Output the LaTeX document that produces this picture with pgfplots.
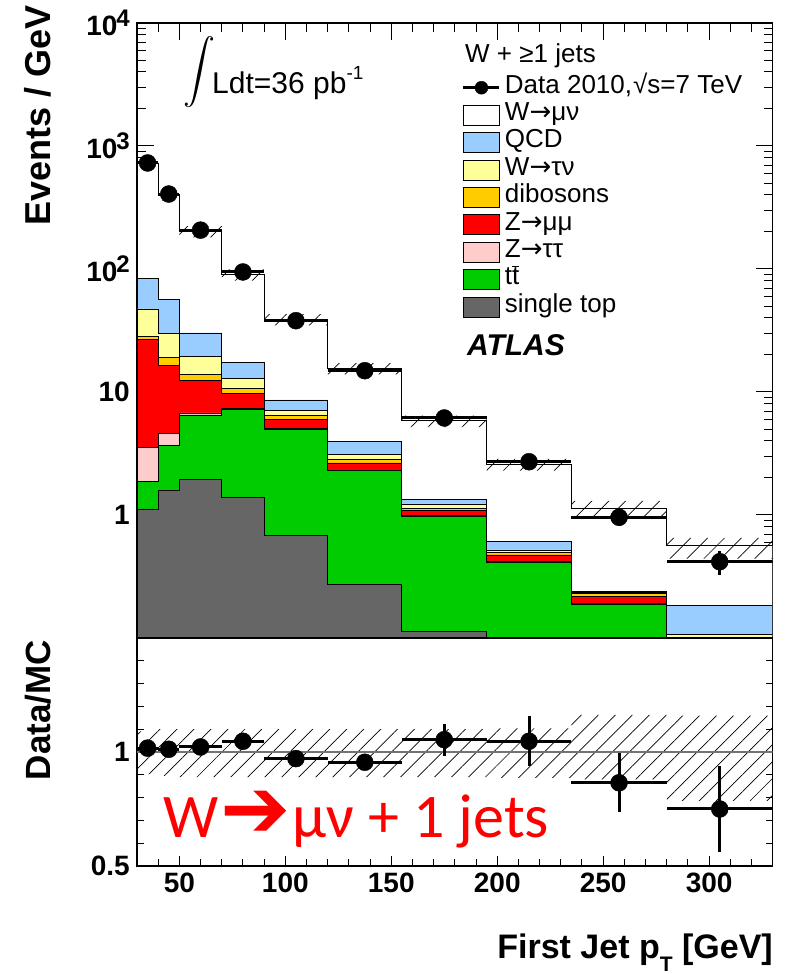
\documentclass[border=0pt]{standalone}
\usepackage{fontspec}
\setmainfont{Liberation Sans}
\newfontfamily\calib{Carlito}
\newfontfamily\dejavu{DejaVu Sans}
\usepackage{graphicx}
\usepackage{pgfplots}
\usepackage{pgfplotstable}
\pgfplotsset{compat=1.18}
\usetikzlibrary{patterns.meta}

\definecolor{cqcd}{RGB}{153,204,255}
\definecolor{cwtn}{RGB}{255,255,153}
\definecolor{cdib}{RGB}{255,204,0}
\definecolor{czmm}{RGB}{255,0,0}
\definecolor{cztt}{RGB}{255,204,204}
\definecolor{ctt}{RGB}{0,204,0}
\definecolor{cst}{RGB}{102,102,102}

\newcommand\yt[1]{{\fontsize{28}{28}\selectfont\bfseries #1}}
\newcommand\ysup[1]{\kern-1pt\raisebox{9pt}{\fontsize{24}{24}\selectfont\bfseries #1}}
\newcommand\xt[1]{{\fontsize{28}{28}\selectfont\bfseries #1}}
\newcommand\arr{{\dejavu →}}

% cumulative stack tops at bin low edges; first and last rows close the area at the axis floor
\pgfplotstableread{
x   tot   qcd   wtn   dib   zmm   ztt   tt    st
30  0.1   0.1   0.1   0.1   0.1   0.1   0.1   0.1
30  716   84    47.3  28.4  26.6  3.55  1.88  1.12
40  402   57    30    19.1  16.4  4.62  3.66  1.58
50  203   30.2  19.5  14    12.5  6.75  6.41  1.94
70  90.4  17.4  12.8  10.7  9.8   7.3   7.18  1.39
90  39.1  8.61  7.05  6.41  6.03  5.05  5.0   0.679
120 15.6  3.95  3.09  2.82  2.65  2.32  2.29  0.271
155 5.83  1.33  1.23  1.13  1.08  0.99  0.976 0.113
195 2.59  0.611 0.52  0.497 0.473 0.418 0.412 0.06
235 1.12  0.24  0.235 0.231 0.218 0.192 0.189 0.03
280 0.563 0.185 0.107 0.07  0.065 0.06  0.055 0.02
330 0.563 0.185 0.107 0.07  0.065 0.06  0.055 0.02
330 0.1   0.1   0.1   0.1   0.1   0.1   0.1   0.1
}\stack

% uncertainty band outline: MC total m and relative factor f (upper edge forward, lower edge back)
\pgfplotstableread{
x   m     f
30  716   1.09
40  402   1.10
50  203   1.10
70  90.4  1.10
90  39.1  1.10
120 15.6  1.10
155 5.83  1.10
195 2.59  1.104
235 1.12  1.163
280 0.563 1.16
330 0.563 1.16
330 0.563 0.786
280 1.12  0.88
235 2.59  0.887
195 5.83  0.89
155 15.6  0.89
120 39.1  0.89
90  90.4  0.89
70  203   0.89
50  402   0.895
40  716   0.903
30  716   0.903
}\band

\pgfplotstableread{
x     y     ex    ey     r      er
35    728   5     9      1.017  0.015
45    407   5     6      1.012  0.015
60    207   10    3      1.022  0.015
80    94.6  10    1.5    1.047  0.02
105   38    15    1.1    0.971  0.025
137.5 14.9  17.5  0.65   0.955  0.03
175   6.15  20    0.41   1.054  0.07
215   2.71  20    0.28   1.047  0.11
257.5 0.958 22.5  0.144  0.865  0.13
305   0.417 25    0.09   0.75   0.19
}\data

\begin{document}
\begin{tikzpicture}
\useasboundingbox (0,0) rectangle (786pt,974pt);

\begin{axis}[
  at={(137pt,336pt)}, anchor=south west, scale only axis,
  width=635.7pt, height=615pt,
  xmin=30, xmax=330, ymode=log, ymin=0.1, ymax=10000,
  axis line style={line width=1.1pt},
  tick style={black, line width=1pt},
  major tick length=17pt, minor tick length=9pt,
  xtick={50,100,150,200,250,300}, xticklabels={},
  minor xtick={30,40,...,330},
  ytick={1,10,100,1000,10000},
  yticklabels={\yt{1},\yt{10},\yt{10}\ysup{2},\yt{10}\ysup{3},\yt{10}\ysup{4}},
  minor ytick={0.2,0.3,0.4,0.5,0.6,0.7,0.8,0.9,2,3,4,5,6,7,8,9,20,30,40,50,60,70,80,90,200,300,400,500,600,700,800,900,2000,3000,4000,5000,6000,7000,8000,9000},
  yticklabel style={inner sep=0pt, xshift=-7pt, anchor=east},
  legend style={at={(0.5112,0.917)}, anchor=north west, draw=none, fill=none,
    inner sep=0pt, outer sep=0pt, row sep=0pt,
    font=\fontsize{26}{26}\selectfont,
    nodes={inner xsep=4pt, inner ysep=0pt, text height=19pt, text depth=8.4pt}},
  legend cell align=left,
]
\addlegendimage{legend image code/.code={\draw[line width=3pt] (0pt,0pt) -- (36pt,0pt); \fill (18pt,0pt) circle (6.5pt);}}
\addlegendentry{Data 2010,\kern1pt√s=7 TeV}
\addlegendimage{legend image code/.code={\draw[fill=white,line width=0.8pt] (0pt,-10pt) rectangle (36pt,10pt);}}
\addlegendentry{W\arr μν}
\addlegendimage{legend image code/.code={\draw[fill=cqcd,line width=0.8pt] (0pt,-10pt) rectangle (36pt,10pt);}}
\addlegendentry{QCD}
\addlegendimage{legend image code/.code={\draw[fill=cwtn,line width=0.8pt] (0pt,-10pt) rectangle (36pt,10pt);}}
\addlegendentry{W\arr τν}
\addlegendimage{legend image code/.code={\draw[fill=cdib,line width=0.8pt] (0pt,-10pt) rectangle (36pt,10pt);}}
\addlegendentry{dibosons}
\addlegendimage{legend image code/.code={\draw[fill=czmm,line width=0.8pt] (0pt,-10pt) rectangle (36pt,10pt);}}
\addlegendentry{Z\arr μμ}
\addlegendimage{legend image code/.code={\draw[fill=cztt,line width=0.8pt] (0pt,-10pt) rectangle (36pt,10pt);}}
\addlegendentry{Z\arr ττ}
\addlegendimage{legend image code/.code={\draw[fill=ctt,line width=0.8pt] (0pt,-10pt) rectangle (36pt,10pt);}}
\addlegendentry{t$\overline{\mbox{t}}$}
\addlegendimage{legend image code/.code={\draw[fill=cst,line width=0.8pt] (0pt,-10pt) rectangle (36pt,10pt);}}
\addlegendentry{single top}

\addplot[const plot, fill=white, draw=black, line width=0.9pt, forget plot] table[x=x,y=tot]{\stack};
\addplot[const plot, fill=cqcd, draw=black, line width=0.8pt, forget plot] table[x=x,y=qcd]{\stack};
\addplot[const plot, fill=cwtn, draw=black, line width=0.8pt, forget plot] table[x=x,y=wtn]{\stack};
\addplot[const plot, fill=cdib, draw=black, line width=0.8pt, forget plot] table[x=x,y=dib]{\stack};
\addplot[const plot, fill=czmm, draw=black, line width=0.8pt, forget plot] table[x=x,y=zmm]{\stack};
\addplot[const plot, fill=cztt, draw=black, line width=0.8pt, forget plot] table[x=x,y=ztt]{\stack};
\addplot[const plot, fill=ctt, draw=black, line width=0.8pt, forget plot] table[x=x,y=tt]{\stack};
\addplot[const plot, fill=cst, draw=black, line width=0.8pt, forget plot] table[x=x,y=st]{\stack};

\addplot[const plot, draw=none, pattern={Lines[angle=45,distance=12pt,line width=0.7pt]}, forget plot]
  table[x=x, y expr=\thisrow{m}*\thisrow{f}]{\band};

\addplot[only marks, mark=*, mark size=8.5pt, black, forget plot,
  error bars/.cd, x dir=both, x explicit, y dir=both, y explicit, error mark=none,
  error bar style={line width=3pt, black}]
  table[x=x, y=y, x error=ex, y error=ey]{\data};

\node[anchor=base west, inner sep=0pt, font=\fontsize{26}{26}\selectfont] at (rel axis cs:0.516,0.935) {W + ≥1 jets};
\node[anchor=base west, inner sep=0pt, font=\fontsize{30}{30}\selectfont\bfseries\itshape] at (rel axis cs:0.519,0.460) {ATLAS};
\node[anchor=base west, inner sep=0pt, font=\fontsize{30}{30}\selectfont] at (rel axis cs:0.0724,0.8846)
  {\raisebox{2pt}{\scalebox{3.2}{$\displaystyle\int$}}\kern-3pt Ldt=36 pb\raisebox{14pt}{\fontsize{19}{19}\selectfont -1}};
\end{axis}

\begin{axis}[
  at={(137pt,108pt)}, anchor=south west, scale only axis,
  width=635.7pt, height=228pt,
  xmin=30, xmax=330, ymin=0.5, ymax=1.5,
  axis line style={line width=1.1pt},
  tick style={black, line width=1pt},
  major tick length=10pt, minor tick length=7pt,
  xtick pos=left,
  xtick={50,100,150,200,250,300},
  xticklabels={\xt{50},\xt{100},\xt{150},\xt{200},\xt{250},\xt{300}},
  minor xtick={30,40,...,330},
  ytick={0.5,1}, yticklabels={\yt{0.5},\yt{1}},
  minor ytick={0.6,0.7,0.8,0.9,1.1,1.2,1.3,1.4},
  yticklabel style={inner sep=0pt, xshift=-7pt, anchor=east},
  xticklabel style={inner sep=0pt, yshift=-7pt, anchor=north},
]
\addplot[const plot, draw=none, pattern={Lines[angle=45,distance=12pt,line width=0.7pt]}, forget plot]
  table[x=x, y=f]{\band};
\addplot[black!55, line width=1.2pt, forget plot] coordinates {(30,1) (330,1)};
\addplot[only marks, mark=*, mark size=8.5pt, black, forget plot,
  error bars/.cd, x dir=both, x explicit, y dir=both, y explicit, error mark=none,
  error bar style={line width=3pt, black}]
  table[x=x, y=r, x error=ex, y error=er]{\data};
\node[anchor=base west, inner sep=0pt, text=red, font=\calib\fontsize{62}{62}\selectfont] at (rel axis cs:0.041,0.123) {W\kern2pt{\dejavu\fontsize{84}{84}\selectfont ➔}\kern2pt μν + 1 jets};
\end{axis}

\node[rotate=90, anchor=east, inner sep=0pt, font=\fontsize{36}{36}\selectfont\bfseries] at (38pt,969pt) {Events / GeV};
\node[rotate=90, anchor=east, inner sep=0pt, font=\fontsize{35}{35}\selectfont\bfseries] at (38pt,334pt) {Data/MC};
\node[anchor=base east, inner sep=0pt, font=\fontsize{34}{34}\selectfont\bfseries] at (773pt,16pt) {First Jet p\raisebox{-13pt}{\fontsize{21}{21}\selectfont T} [GeV]};
\end{tikzpicture}
\end{document}
